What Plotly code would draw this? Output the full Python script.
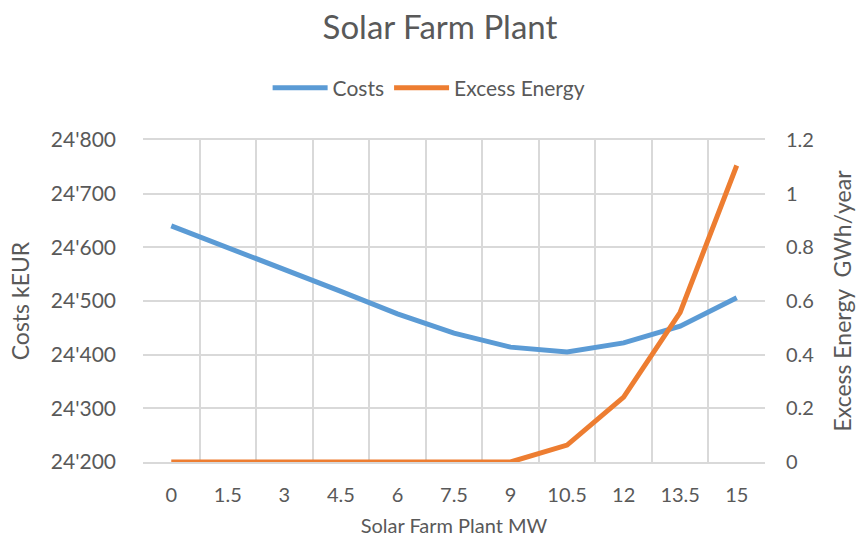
import plotly.graph_objects as go

# Installed capacity of the solar farm (MW), used as categories
capacity_mw = ["0", "1.5", "3", "4.5", "6", "7.5", "9", "10.5", "12", "13.5", "15"]
# Total costs in kEUR
costs_keur = [24640, 24600, 24558, 24518, 24476, 24440, 24414, 24405, 24422, 24453, 24506]
# Excess energy in GWh/year
excess_gwh = [0, 0, 0, 0, 0, 0, 0, 0.063, 0.242, 0.558, 1.105]

FONT = "Lato"
GREY = "#595959"
GRID = "#D9D9D9"

fig = go.Figure()
fig.add_trace(go.Scatter(
    x=capacity_mw, y=costs_keur, name="Costs", mode="lines",
    line=dict(color="#5B9BD5", width=5), yaxis="y",
))
fig.add_trace(go.Scatter(
    x=capacity_mw, y=excess_gwh, name="Excess Energy", mode="lines",
    line=dict(color="#ED7D31", width=5), yaxis="y2",
))

fig.update_layout(
    width=856, height=544,
    margin=dict(l=143, r=91, t=140, b=82),
    paper_bgcolor="white", plot_bgcolor="white",
    font=dict(family=FONT, color=GREY, size=19),
    separators=".'",
    title=dict(text="Solar Farm Plant", x=0.514, xanchor="center", y=0.949, yanchor="middle",
               font=dict(size=33, color=GREY, family=FONT)),
    legend=dict(orientation="h", x=0.46, xanchor="center", y=1.161, yanchor="middle",
                font=dict(size=21, color=GREY), itemwidth=55, tracegroupgap=0),
    showlegend=True,
    xaxis=dict(
        type="category", range=[-0.5, 10.5], tickson="boundaries", showgrid=True,
        gridcolor=GRID, gridwidth=1.5, automargin=False,
        showline=True, linecolor=GRID, linewidth=1.5, mirror=True, ticks="",
        ticklabelstandoff=14,
        tickfont=dict(size=20, color=GREY),
        title=dict(text="Solar Farm Plant MW", font=dict(size=20, color=GREY), standoff=14),
    ),
    yaxis=dict(
        range=[24200, 24800], dtick=100, tickformat=",d", showgrid=True,
        gridcolor=GRID, gridwidth=1.5, zeroline=False, ticks="", automargin=False,
        ticklabelstandoff=26,
        tickfont=dict(size=21, color=GREY),
        title=dict(text="Costs kEUR", font=dict(size=23, color=GREY), standoff=14),
    ),
    yaxis2=dict(
        overlaying="y", side="right", range=[0, 1.2], dtick=0.2, showgrid=False,
        zeroline=False, ticks="", ticklabelstandoff=20, automargin=False,
        tickfont=dict(size=20, color=GREY),
        title=dict(text="Excess Energy  GWh/year", font=dict(size=23, color=GREY), standoff=22),
    ),
)

fig.write_html("out.html")
